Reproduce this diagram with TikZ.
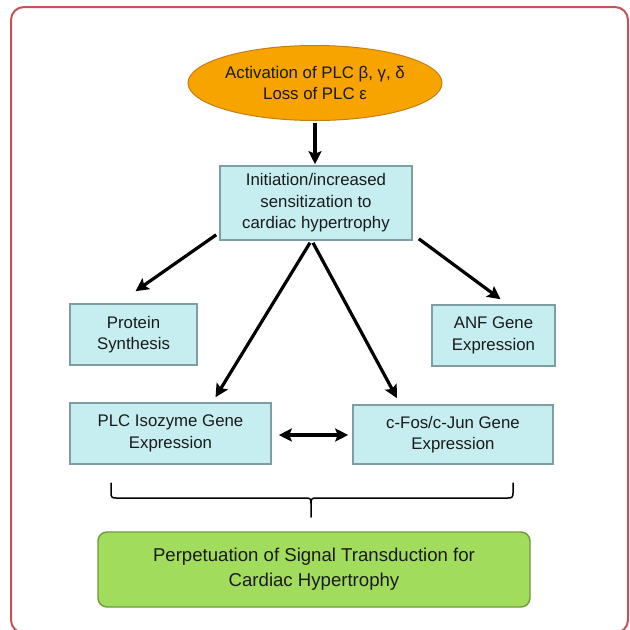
\documentclass[tikz,border=0pt]{standalone}
\usepackage{fontspec}
\setmainfont{Liberation Sans}
\usetikzlibrary{shapes.geometric,arrows.meta,calc}
\definecolor{frame}{HTML}{C8505A}
\definecolor{orfill}{HTML}{F7A300}
\definecolor{ordraw}{HTML}{C47F10}
\definecolor{cyfill}{HTML}{C6EEF1}
\definecolor{cydraw}{HTML}{7E9EA2}
\definecolor{grfill}{HTML}{A2DC5C}
\definecolor{grdraw}{HTML}{6E9A3A}
\definecolor{txt}{HTML}{1A1A1A}
\tikzset{
  lbl/.style={font=\fontsize{16.8}{21.5}\selectfont, text=txt, align=center, inner sep=0pt},
  cybox/.style={lbl, rectangle, fill=cyfill, draw=cydraw, line width=1.6pt},
  arr/.style={line width=3.2pt, -{Stealth[length=13pt,width=13pt,inset=2.5pt]}},
  darr/.style={line width=3.2pt, {Stealth[length=13pt,width=13pt,inset=2.5pt]}-{Stealth[length=13pt,width=13pt,inset=2.5pt]}},
}
\begin{document}
\begin{tikzpicture}[x=1pt,y=-1pt]
\useasboundingbox (0,0) rectangle (630,630);
\fill[white] (0,0) rectangle (630,630);
\draw[frame, line width=2pt, rounded corners=13pt] (11,7) rectangle (628,633);

\node[lbl, ellipse, fill=orfill, draw=ordraw, line width=1pt, minimum width=252pt, minimum height=75pt] (act) at (315,83) {Activation of PLC β, γ, δ\\Loss of PLC ε};
\node[cybox, minimum width=192pt, minimum height=74pt] (init) at (316,203) {Initiation/increased\\sensitization to\\cardiac hypertrophy};
\node[cybox, minimum width=127pt, minimum height=61pt] (prot) at (133.5,334.5) {Protein\\Synthesis};
\node[cybox, minimum width=123pt, minimum height=61pt] (anf) at (493.5,335.5) {ANF Gene\\Expression};
\node[cybox, minimum width=201pt, minimum height=61pt] (plc) at (170.5,433.5) {PLC Isozyme Gene\\Expression};
\node[cybox, minimum width=200pt, minimum height=59pt] (cfos) at (453,434.5) {c-Fos/c-Jun Gene\\Expression};
\node[lbl, font=\fontsize{18.6}{25}\selectfont, rectangle, rounded corners=9pt, fill=grfill, draw=grdraw, line width=1.4pt, minimum width=432pt, minimum height=75pt] (perp) at (314,569.5) {Perpetuation of Signal Transduction for\\Cardiac Hypertrophy};

\draw[arr] ($(act.south)+(0,2)$) -- ($(init.north)+(-1,-1)$);
\draw[arr] ($(init.south west)+(-3,-6)$) -- ($(prot.north)+(2,-12)$);
\draw[arr] ($(init.south)+(-6,2)$) -- ($(plc.north)+(45,-5)$);
\draw[arr] ($(init.south)+(-3,2)$) -- ($(cfos.north)+(-56,-6)$);
\draw[arr] ($(init.south east)+(6,-2)$) -- ($(anf.north)+(7,-5)$);
\draw[darr] ($(plc.east)+(7,1.5)$) -- ($(cfos.west)+(-4,0.5)$);

\coordinate (bl) at (111,483);
\coordinate (br) at (513,483);
\coordinate (bt) at (311,517);
\draw[black, line width=1.5pt, line cap=round] (bl) -- (111,493) .. controls (111,497) and (112,498) .. (116,498) -- (306,498) .. controls (310,498) and (311,499) .. (311,503) -- (bt);
\draw[black, line width=1.5pt, line cap=round] (br) -- (513,493) .. controls (513,497) and (512,498) .. (508,498) -- (316,498) .. controls (312,498) and (311,499) .. (311,503);
\end{tikzpicture}
\end{document}
